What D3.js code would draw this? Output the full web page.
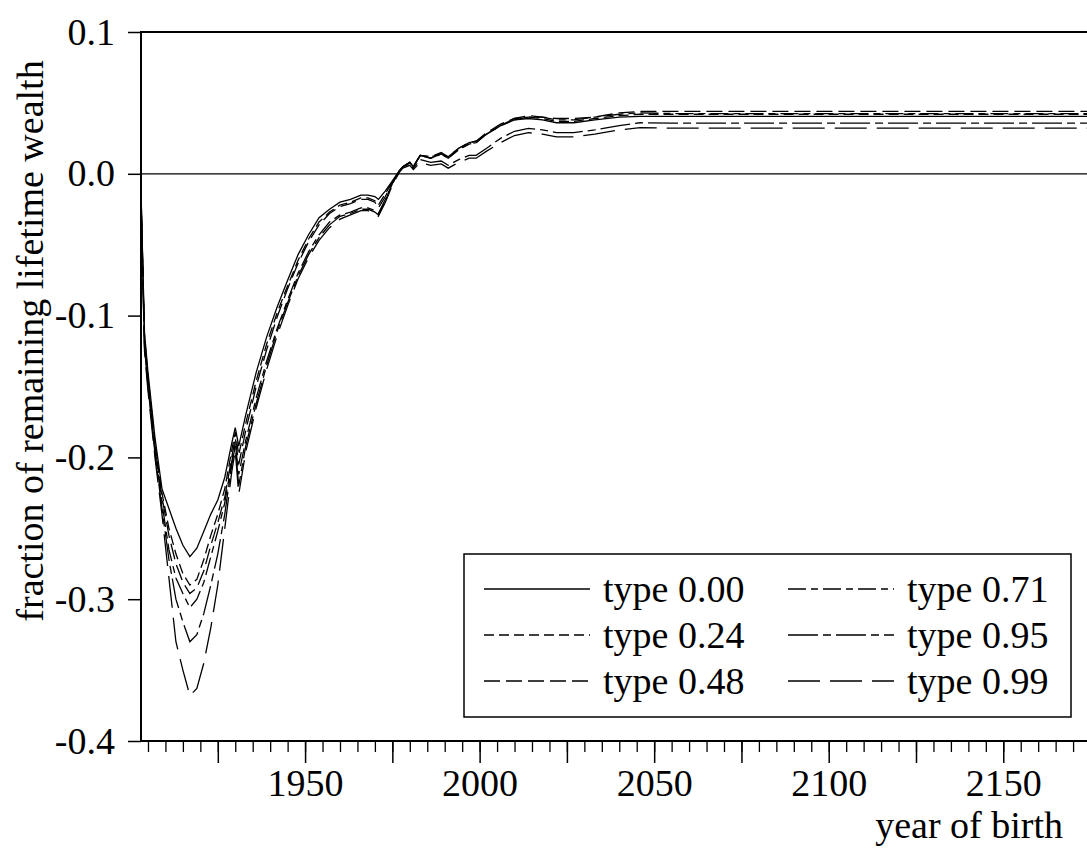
<!DOCTYPE html>
<html>
<head>
<meta charset="utf-8">
<script src="https://cdn.jsdelivr.net/npm/d3@7"></script>
<style>
body { margin: 0; background: #fff; }
svg text { font-family: "Liberation Serif", "Times New Roman", serif; font-size: 38px; fill: #000; }
</style>
</head>
<body>
<svg id="chart" width="1087" height="850"></svg>
<script>
// year of birth (x values shared by every series)
const years = [1903, 1904, 1905, 1907, 1909, 1911, 1913, 1915, 1917, 1919,
    1921, 1923, 1925, 1927, 1929, 1930, 1931, 1933, 1936, 1939,
    1942, 1945, 1948, 1951, 1954, 1957, 1960, 1963, 1966, 1968,
    1970, 1971, 1973, 1975, 1977, 1978, 1980, 1981, 1983, 1986,
    1989, 1991, 1994, 1997, 1999, 2002, 2006, 2010, 2014, 2018,
    2022, 2027, 2033, 2040, 2046, 2055, 2070, 2100, 2140, 2180];

const type000 = [-0.012, -0.112, -0.140, -0.186, -0.222, -0.236, -0.250, -0.262, -0.270, -0.264,
    -0.252, -0.240, -0.230, -0.214, -0.190, -0.179, -0.192, -0.170, -0.140, -0.115,
    -0.094, -0.075, -0.057, -0.043, -0.031, -0.025, -0.020, -0.018, -0.015, -0.015,
    -0.016, -0.018, -0.012, -0.005, 0.002, 0.005, 0.008, 0.005, 0.013, 0.011,
    0.014, 0.012, 0.018, 0.022, 0.023, 0.028, 0.034, 0.038, 0.039, 0.038,
    0.036, 0.036, 0.038, 0.040, 0.0405, 0.0405, 0.0405, 0.0405, 0.0405, 0.0405];

const type024 = [-0.013, -0.115, -0.143, -0.190, -0.225, -0.250, -0.268, -0.282, -0.290, -0.286,
    -0.272, -0.255, -0.240, -0.222, -0.195, -0.182, -0.198, -0.176, -0.146, -0.120,
    -0.098, -0.079, -0.061, -0.046, -0.034, -0.027, -0.022, -0.020, -0.017, -0.017,
    -0.019, -0.022, -0.014, -0.006, 0.002, 0.005, 0.008, 0.005, 0.013, 0.011,
    0.014, 0.011, 0.017, 0.021, 0.022, 0.028, 0.034, 0.038, 0.040, 0.039,
    0.037, 0.037, 0.039, 0.041, 0.042, 0.042, 0.042, 0.042, 0.042, 0.042];

const type048 = [-0.014, -0.117, -0.146, -0.192, -0.228, -0.255, -0.275, -0.288, -0.296, -0.292,
    -0.280, -0.262, -0.246, -0.228, -0.200, -0.186, -0.205, -0.181, -0.150, -0.124,
    -0.101, -0.081, -0.063, -0.048, -0.036, -0.028, -0.023, -0.021, -0.018, -0.018,
    -0.020, -0.024, -0.016, -0.006, 0.002, 0.005, 0.008, 0.005, 0.013, 0.012,
    0.015, 0.012, 0.018, 0.022, 0.023, 0.029, 0.035, 0.039, 0.041, 0.040,
    0.039, 0.039, 0.040, 0.043, 0.044, 0.044, 0.044, 0.044, 0.044, 0.044];

const type071 = [-0.015, -0.120, -0.148, -0.195, -0.232, -0.265, -0.285, -0.296, -0.306, -0.300,
    -0.288, -0.270, -0.252, -0.232, -0.203, -0.190, -0.212, -0.188, -0.158, -0.132,
    -0.109, -0.089, -0.070, -0.055, -0.043, -0.034, -0.029, -0.027, -0.024, -0.024,
    -0.026, -0.028, -0.018, -0.007, 0.002, 0.005, 0.008, 0.005, 0.013, 0.012,
    0.014, 0.011, 0.017, 0.021, 0.022, 0.028, 0.034, 0.039, 0.040, 0.040,
    0.038, 0.038, 0.040, 0.042, 0.043, 0.0425, 0.0425, 0.0425, 0.0425, 0.0425];

const type095 = [-0.016, -0.122, -0.150, -0.197, -0.236, -0.272, -0.300, -0.316, -0.330, -0.325,
    -0.310, -0.290, -0.268, -0.240, -0.205, -0.192, -0.220, -0.192, -0.162, -0.135,
    -0.111, -0.091, -0.072, -0.057, -0.045, -0.036, -0.030, -0.028, -0.025, -0.025,
    -0.027, -0.029, -0.019, -0.007, 0.002, 0.005, 0.007, 0.004, 0.010, 0.008,
    0.009, 0.006, 0.010, 0.013, 0.013, 0.018, 0.025, 0.030, 0.032, 0.031,
    0.029, 0.029, 0.031, 0.034, 0.036, 0.0357, 0.0357, 0.0357, 0.0357, 0.0357];

const type099 = [-0.018, -0.125, -0.153, -0.200, -0.240, -0.285, -0.330, -0.350, -0.368, -0.363,
    -0.345, -0.320, -0.290, -0.250, -0.210, -0.195, -0.226, -0.196, -0.165, -0.138,
    -0.114, -0.093, -0.074, -0.059, -0.047, -0.038, -0.032, -0.029, -0.026, -0.026,
    -0.028, -0.030, -0.020, -0.008, 0.001, 0.004, 0.006, 0.003, 0.008, 0.006,
    0.007, 0.004, 0.008, 0.011, 0.011, 0.016, 0.022, 0.027, 0.029, 0.028,
    0.026, 0.026, 0.028, 0.031, 0.0325, 0.0322, 0.0322, 0.0322, 0.0322, 0.0322];

const seriesNames = ['type 0.00', 'type 0.24', 'type 0.48', 'type 0.71', 'type 0.95', 'type 0.99'];
const seriesValues = [type000, type024, type048, type071, type095, type099];

const yTicks = [-0.4, -0.3, -0.2, -0.1, 0.0, 0.1];
const yTickLabels = ['-0.4', '-0.3', '-0.2', '-0.1', '0.0', '0.1'];
const xMajorTicks = [1925, 1950, 1975, 2000, 2025, 2050, 2075, 2100, 2125, 2150, 2175];
const xTickLabels = {1950: '1950', 2000: '2000', 2050: '2050', 2100: '2100', 2150: '2150'};

// line styles per series
const dashes = ['none', '10,5', '16,6', '18,5,7,5', '30,5,8,5', '32,10'];

const svg = d3.select('#chart');

let x = d3.scaleLinear().domain([1903, 2180]).range([141, 1108]);
let y = d3.scaleLinear().domain([-0.4, 0.1]).range([741, 32]);

svg.append('defs').append('clipPath').attr('id', 'plotClip')
    .append('rect')
    .attr('x', x(1903)).attr('y', y(0.1))
    .attr('width', x(2180) - x(1903)).attr('height', y(-0.4) - y(0.1));

// zero line
svg.append('line')
    .attr('x1', x(1903)).attr('x2', x(2180))
    .attr('y1', y(0)).attr('y2', y(0))
    .attr('stroke', '#000').attr('stroke-width', 1.2);

// y axis
svg.append('g')
    .attr('transform', 'translate(' + x(1903) + ',0)')
    .call(d3.axisLeft(y).tickValues(yTicks)
        .tickFormat((d, i) => yTickLabels[i])
        .tickSize(13).tickPadding(13))
    .call(g => g.select('.domain').remove())
    .call(g => g.selectAll('line').attr('stroke-width', 1.5));

// x axis: minor ticks every 5 years, major every 25
let minorTicks = [];
for (let yr = 1905; yr < 2180; yr += 5) minorTicks.push(yr);

svg.append('g')
    .attr('transform', 'translate(0,' + y(-0.4) + ')')
    .call(d3.axisBottom(x).tickValues(minorTicks).tickFormat('').tickSize(11))
    .call(g => g.select('.domain').remove())
    .call(g => g.selectAll('line').attr('stroke-width', 1.3));

svg.append('g')
    .attr('transform', 'translate(0,' + y(-0.4) + ')')
    .call(d3.axisBottom(x).tickValues(xMajorTicks)
        .tickFormat(d => xTickLabels[d] || '')
        .tickSize(22).tickPadding(6))
    .call(g => g.select('.domain').remove())
    .call(g => g.selectAll('line').attr('stroke-width', 1.5));

// series lines
let line = d3.line()
    .x((d, i) => x(years[i]))
    .y(d => y(d));

svg.append('g')
    .attr('clip-path', 'url(#plotClip)')
    .selectAll('path')
    .data(seriesValues)
    .enter().append('path')
    .attr('d', d => line(d))
    .attr('fill', 'none')
    .attr('stroke', '#000')
    .attr('stroke-width', 1.3)
    .attr('stroke-dasharray', (d, i) => dashes[i]);

// frame
svg.append('rect')
    .attr('x', x(1903)).attr('y', y(0.1))
    .attr('width', x(2180) - x(1903)).attr('height', y(-0.4) - y(0.1))
    .attr('fill', 'none').attr('stroke', '#000').attr('stroke-width', 2);

// axis titles
svg.append('text')
    .attr('transform', 'translate(43,341) rotate(-90)')
    .style('text-anchor', 'middle')
    .text('fraction of remaining lifetime wealth');

svg.append('text')
    .attr('x', 1063).attr('y', 838)
    .style('text-anchor', 'end')
    .text('year of birth');

// legend
let legend = svg.append('g');
legend.append('rect')
    .attr('x', 464).attr('y', 554)
    .attr('width', 607).attr('height', 163)
    .attr('fill', '#fff').attr('stroke', '#000').attr('stroke-width', 1.5);

let items = legend.selectAll('.item')
    .data(seriesNames)
    .enter().append('g')
    .attr('class', 'item')
    .attr('transform', (d, i) => 'translate(' + (i < 3 ? 484 : 788) + ',' + (589 + (i % 3) * 46) + ')');

items.append('line')
    .attr('x1', 0).attr('x2', 106)
    .attr('y1', 0).attr('y2', 0)
    .attr('stroke', '#000').attr('stroke-width', 1.3)
    .attr('stroke-dasharray', (d, i) => dashes[i]);

items.append('text')
    .attr('x', 119).attr('y', 13)
    .text(d => d);
</script>
</body>
</html>
